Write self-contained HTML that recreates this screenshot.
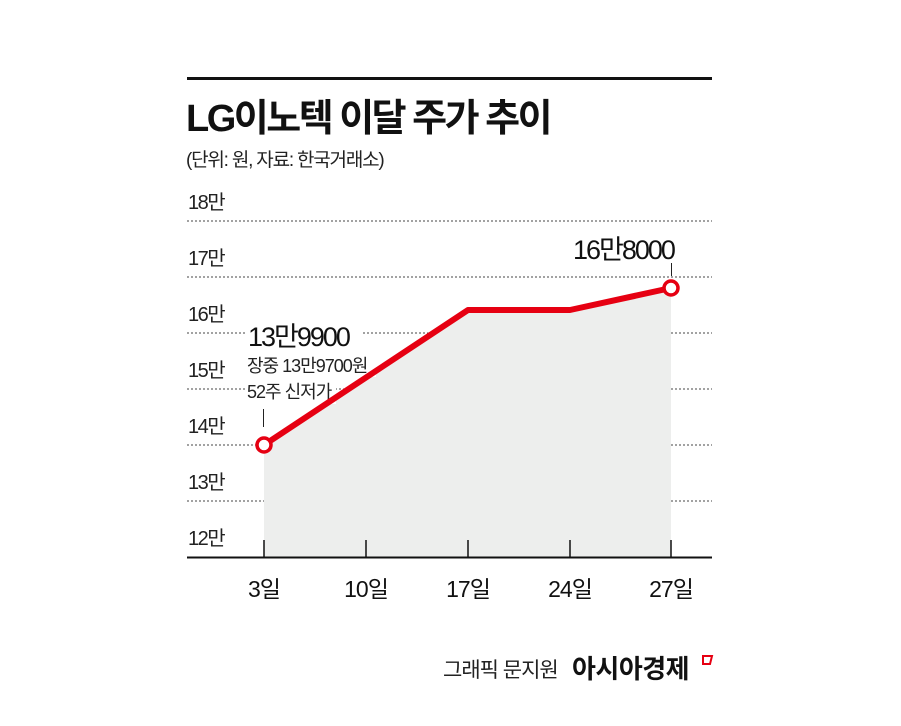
<!DOCTYPE html>
<html><head><meta charset="utf-8"><style>
body{margin:0;background:#fff;}
svg text{font-family:"Liberation Sans","Noto Sans CJK KR",sans-serif;}
</style></head><body>
<svg width="901" height="721" viewBox="0 0 901 721" xmlns="http://www.w3.org/2000/svg">
<rect width="901" height="721" fill="#fff"/>
<line x1="187" y1="78.5" x2="712" y2="78.5" stroke="#111" stroke-width="3"/>
<text x="186" y="131" font-size="38" font-weight="bold" fill="#111" letter-spacing="-2.5">LG이노텍 이달 주가 추이</text>
<text x="186" y="166" font-size="19" fill="#222" letter-spacing="-1.2">(단위: 원, 자료: 한국거래소)</text>
<g stroke="#444" stroke-width="1" stroke-dasharray="2,2">
<line x1="187" y1="221" x2="712" y2="221"/>
<line x1="187" y1="277" x2="712" y2="277"/>
<line x1="187" y1="333" x2="712" y2="333"/>
<line x1="187" y1="389" x2="712" y2="389"/>
<line x1="187" y1="445" x2="712" y2="445"/>
<line x1="187" y1="501" x2="712" y2="501"/>
</g>
<polygon points="264,445 468,310 570,310 671,288 671,557 264,557" fill="#edeeed"/>
<g font-size="20" fill="#222" letter-spacing="-1.5">
<text x="188" y="209">18만</text>
<text x="188" y="265">17만</text>
<text x="188" y="321">16만</text>
<text x="188" y="377">15만</text>
<text x="188" y="433">14만</text>
<text x="188" y="489">13만</text>
<text x="188" y="545">12만</text>
</g>
<line x1="187" y1="557.5" x2="712" y2="557.5" stroke="#111" stroke-width="2"/>
<g stroke="#111" stroke-width="1.5">
<line x1="264" y1="540" x2="264" y2="557"/>
<line x1="366" y1="540" x2="366" y2="557"/>
<line x1="468" y1="540" x2="468" y2="557"/>
<line x1="570" y1="540" x2="570" y2="557"/>
<line x1="671" y1="540" x2="671" y2="557"/>
</g>
<g font-size="23" fill="#111" text-anchor="middle" letter-spacing="-1">
<text x="264" y="597">3일</text>
<text x="366" y="597">10일</text>
<text x="468" y="597">17일</text>
<text x="570" y="597">24일</text>
<text x="671" y="597">27일</text>
</g>
<rect x="247" y="322" width="116" height="26" fill="#fff"/>
<rect x="246" y="353" width="130" height="24" fill="#fff"/>
<rect x="246" y="380" width="90" height="24" fill="#fff"/>
<text x="248" y="346" font-size="27" fill="#111" letter-spacing="-2">13만9900</text>
<text x="247" y="372" font-size="18" fill="#222" letter-spacing="-1">장중 13만9700원</text>
<text x="247" y="398" font-size="18" fill="#222" letter-spacing="-1">52주 신저가</text>
<line x1="263.5" y1="409" x2="263.5" y2="427" stroke="#222" stroke-width="1"/>
<text x="573" y="259" font-size="27" fill="#111" letter-spacing="-2">16만8000</text>
<line x1="671.5" y1="263" x2="671.5" y2="276" stroke="#222" stroke-width="1"/>
<polyline points="264,445 468,310 570,310 671,288" fill="none" stroke="#e60012" stroke-width="6" stroke-linejoin="round"/>
<circle cx="264" cy="445" r="7" fill="#fff" stroke="#e60012" stroke-width="3.5"/>
<circle cx="671" cy="288" r="7" fill="#fff" stroke="#e60012" stroke-width="3.5"/>
<text x="443" y="677" font-size="21" fill="#222" letter-spacing="-1">그래픽 문지원</text>
<text x="572" y="678" font-size="26" font-weight="bold" fill="#111" letter-spacing="-0.5">아시아경제</text>
<path d="M703 656 L712 656 L710 664 L703 664 Z" fill="none" stroke="#e60012" stroke-width="2"/>
</svg>
</body></html>
